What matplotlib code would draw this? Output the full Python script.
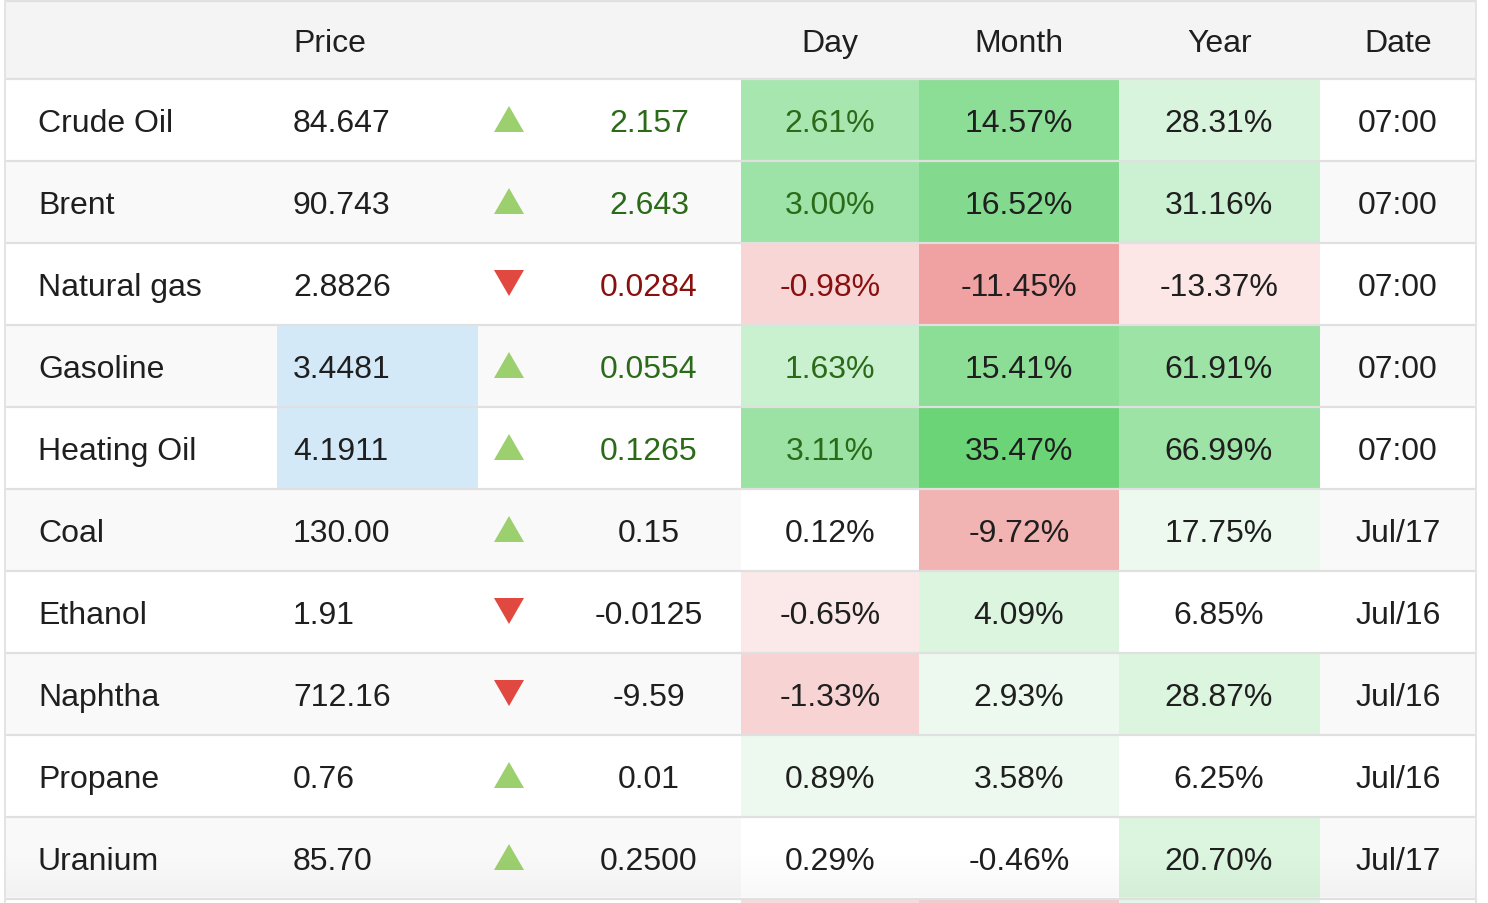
import numpy as np
import matplotlib.pyplot as plt
from matplotlib.patches import Rectangle, Polygon

plt.rcParams['font.family'] = ['Liberation Sans', 'DejaVu Sans']

# table contents
headers = ['', 'Price', '', '', 'Day', 'Month', 'Year', 'Date']
names = ['Crude Oil', 'Brent', 'Natural gas', 'Gasoline', 'Heating Oil',
         'Coal', 'Ethanol', 'Naphtha', 'Propane', 'Uranium']
prices = ['84.647', '90.743', '2.8826', '3.4481', '4.1911',
          '130.00', '1.91', '712.16', '0.76', '85.70']
direction = ['up', 'up', 'down', 'up', 'up', 'up', 'down', 'down', 'up', 'up']
changes = ['2.157', '2.643', '0.0284', '0.0554', '0.1265',
           '0.15', '-0.0125', '-9.59', '0.01', '0.2500']
day_pct = ['2.61%', '3.00%', '-0.98%', '1.63%', '3.11%',
           '0.12%', '-0.65%', '-1.33%', '0.89%', '0.29%']
month_pct = ['14.57%', '16.52%', '-11.45%', '15.41%', '35.47%',
             '-9.72%', '4.09%', '2.93%', '3.58%', '-0.46%']
year_pct = ['28.31%', '31.16%', '-13.37%', '61.91%', '66.99%',
            '17.75%', '6.85%', '28.87%', '6.25%', '20.70%']
dates = ['07:00', '07:00', '07:00', '07:00', '07:00',
         'Jul/17', 'Jul/16', 'Jul/16', 'Jul/16', 'Jul/17']

# cell shading (style)
day_bg = ['#a8e6b0', '#9de2a6', '#f8d6d6', '#c9f0cf', '#9be2a4',
          '#ffffff', '#fbe8e8', '#f7d3d3', '#edf9ef', '#ffffff']
month_bg = ['#8cdd96', '#83da8e', '#f0a1a1', '#8cdd96', '#6bd477',
            '#f2b3b3', '#dcf5df', '#edf9ef', '#edf9ef', '#ffffff']
year_bg = ['#d9f4dd', '#ccf0d2', '#fce6e6', '#9de3a6', '#9de3a6',
           '#edf9ef', '#ffffff', '#dbf5de', '#ffffff', '#dcf5df']
price_bg = [None, None, None, '#d3e9f8', '#d3e9f8', None, None, None, None, None]
colored_text = [True, True, True, True, True, False, False, False, False, False]

W, H = 1488, 904
fig = plt.figure(figsize=(W / 100, H / 100), dpi=100)
ax = fig.add_axes([0, 0, 1, 1])
ax.set_xlim(0, W)
ax.set_ylim(H, 0)
ax.axis('off')

edges = [5, 277, 478, 557, 741, 919, 1119, 1320, 1476]
head_top, head_h, row_h = 2, 78, 82
body_top = head_top + head_h
fs = 23
txt = '#1f1f1f'
green_txt = '#2b6a18'
red_txt = '#8a1010'
grid_c = '#e0e0e0'

# header
ax.add_patch(Rectangle((edges[0], head_top), edges[-1] - edges[0], head_h,
                       facecolor='#f4f4f4', edgecolor='none'))
head_base = head_top + 50
ax.text(293, head_base, headers[1], fontsize=fs, color=txt, va='baseline')
for j in range(4, 8):
    cx = (edges[j] + edges[j + 1]) / 2
    ax.text(cx, head_base, headers[j], fontsize=fs, color=txt,
            va='baseline', ha='center')

for i, name in enumerate(names):
    top = body_top + i * row_h
    stripe = '#ffffff' if i % 2 == 0 else '#f9f9f9'
    ax.add_patch(Rectangle((edges[0], top), edges[-1] - edges[0], row_h,
                           facecolor=stripe, edgecolor='none'))
    if price_bg[i]:
        ax.add_patch(Rectangle((edges[1], top), edges[2] - edges[1], row_h,
                               facecolor=price_bg[i], edgecolor='none'))
    for j, bg in zip((4, 5, 6), (day_bg[i], month_bg[i], year_bg[i])):
        ax.add_patch(Rectangle((edges[j], top), edges[j + 1] - edges[j], row_h,
                               facecolor=bg, edgecolor='none'))

    base = top + 52
    ax.text(38, base, name, fontsize=fs, color=txt, va='baseline')
    ax.text(293, base, prices[i], fontsize=fs, color=txt, va='baseline')

    # arrow
    ac, ay = 509, top + 41
    if direction[i] == 'up':
        tri = [(ac - 15, ay + 12), (ac + 15, ay + 12), (ac, ay - 14)]
        fc = '#9ccf6e'
    else:
        tri = [(ac - 15, ay - 14), (ac + 15, ay - 14), (ac, ay + 12)]
        fc = '#e04840'
    ax.add_patch(Polygon(tri, closed=True, facecolor=fc, edgecolor='none'))

    if colored_text[i]:
        ctxt = green_txt if direction[i] == 'up' else red_txt
    else:
        ctxt = txt
    ax.text(649, base, changes[i], fontsize=fs, color=ctxt, va='baseline', ha='center')
    ax.text(830, base, day_pct[i], fontsize=fs, color=ctxt, va='baseline', ha='center')
    ax.text(1019, base, month_pct[i], fontsize=fs, color=txt, va='baseline', ha='center')
    ax.text(1219, base, year_pct[i], fontsize=fs, color=txt, va='baseline', ha='center')
    ax.text(1398, base, dates[i], fontsize=fs, color=txt, va='baseline', ha='center')

# next row peeking in at the bottom
next_top = body_top + len(names) * row_h
for j, bg in zip((4, 5, 6), ('#f7dada', '#f0cccc', '#e6f5e9')):
    ax.add_patch(Rectangle((edges[j], next_top), edges[j + 1] - edges[j], H - next_top,
                           facecolor=bg, edgecolor='none'))

# soft shadow over the last row
grad = np.zeros((60, 2, 4))
grad[..., 3] = np.linspace(0, 0.03, 60)[:, None] ** 1.0
ax.imshow(grad, extent=(edges[0], edges[-1], next_top - 2, next_top - 50),
          aspect='auto', interpolation='bilinear', zorder=3)

# grid lines
line_y = [head_top] + [body_top + k * row_h for k in range(len(names) + 1)]
for y in line_y:
    ax.plot([edges[0], edges[-1]], [y, y], color=grid_c, lw=1.6, zorder=4,
            solid_capstyle='butt')
for x in (edges[0], edges[-1]):
    ax.plot([x, x], [0, H], color='#e4e4e4', lw=1.4, zorder=4)

ax.set_xlim(0, W)
ax.set_ylim(H, 0)
fig.savefig('out.png', dpi=100, facecolor='white')
